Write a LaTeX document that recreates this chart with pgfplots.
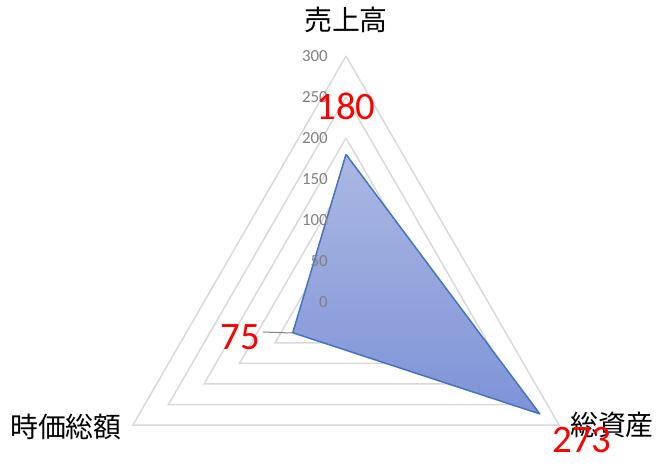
\documentclass[border=0pt]{standalone}
\usepackage{fontspec}
\setmainfont{Carlito}
\newfontfamily\jp{Noto Sans CJK JP}
\usepackage{pgfplots}
\usepackage{pgfplotstable}
\pgfplotsset{compat=1.18}
\usepgfplotslibrary{polar}
\usetikzlibrary{calc}
\definecolor{gridc}{RGB}{217,217,217}
\definecolor{serline}{RGB}{68,114,196}
\definecolor{filltop}{RGB}{171,184,226}
\definecolor{fillbot}{RGB}{126,147,216}
\definecolor{tickc}{RGB}{128,128,128}
\definecolor{lblred}{RGB}{255,0,0}

% angle r  (売上高 top, 総資産 lower right, 時価総額 lower left)
\pgfplotstableread{
angle r
90  180
330 273
210 75
90  180
}\datatable

\begin{document}
\begin{tikzpicture}
\begin{polaraxis}[
    hide axis, scale only axis,
    width=492bp, height=492bp,
    xmin=0, xmax=360, ymin=0, ymax=300,
    clip=false,
  ]
  \addplot[gridc, line width=1.5bp, forget plot] coordinates {(90,50) (210,50) (330,50) (90,50)};
  \addplot[gridc, line width=1.5bp, forget plot] coordinates {(90,100) (210,100) (330,100) (90,100)};
  \addplot[gridc, line width=1.5bp, forget plot] coordinates {(90,150) (210,150) (330,150) (90,150)};
  \addplot[gridc, line width=1.5bp, forget plot] coordinates {(90,200) (210,200) (330,200) (90,200)};
  \addplot[gridc, line width=1.5bp, forget plot] coordinates {(90,250) (210,250) (330,250) (90,250)};
  \addplot[gridc, line width=1.5bp, forget plot] coordinates {(90,300) (210,300) (330,300) (90,300)};
  \addplot[draw=serline, line width=1.5bp, line join=round, top color=filltop, bottom color=fillbot]
    table[x=angle, y=r] {\datatable};
  \coordinate (C) at (axis cs:0,0);
\end{polaraxis}
% radial tick labels
\foreach \v in {0,50,...,300}{
  \node[anchor=east, inner sep=0pt, text=tickc, font=\fontsize{17}{17}\selectfont]
    at ($(C)+(-18bp,{\v*0.82bp})$) {\v};
}
% category labels
\node[font=\jp\fontsize{28}{28}\selectfont] at ($(C)+(0bp,282bp)$) {売上高};
\node[font=\jp\fontsize{28}{28}\selectfont] at ($(C)+(266bp,-123bp)$) {総資産};
\node[font=\jp\fontsize{28}{28}\selectfont] at ($(C)+(-280bp,-125bp)$) {時価総額};
% data labels
\draw[tickc, line width=1bp] ($(C)+(-83bp,-30bp)$) -- ($(C)+(-54bp,-31bp)$);
\node[text=lblred, font=\fontsize{39}{39}\selectfont] at ($(C)+(0bp,196bp)$) {180};
\node[text=lblred, font=\fontsize{39}{39}\selectfont] at ($(C)+(-106bp,-35bp)$) {75};
\node[text=lblred, font=\fontsize{39}{39}\selectfont] at ($(C)+(236bp,-138bp)$) {273};
\pgfresetboundingbox
\path ($(C)+(-346bp,302bp)$) rectangle ($(C)+(323bp,-164bp)$);
\end{tikzpicture}
\end{document}
